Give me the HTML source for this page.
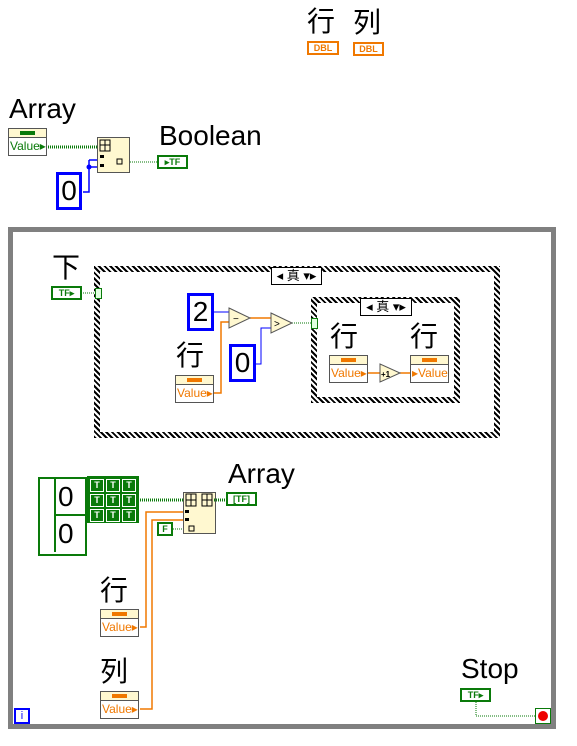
<!DOCTYPE html>
<html><head><meta charset="utf-8"><style>
body{margin:0;width:577px;height:746px;background:#fff;position:relative;overflow:hidden;font-family:"Liberation Sans","Noto Sans CJK SC",sans-serif}
.a{position:absolute}
.lbl{position:absolute;font-size:28px;line-height:30px;color:#000;white-space:nowrap}
.ctl{position:absolute;width:37px;height:26px;border:1px solid #555;background:#fff}
.ctl .h{height:8px;border-bottom:1px solid #555;background:#fff8d0;position:relative}
.ctl .h i{position:absolute;left:11px;top:2px;width:15px;height:4px;background:#f07800}
.ctl .v{font-size:12px;color:#f07800;line-height:16px;padding-left:1px}
.num{position:absolute;border:3px solid #0000ff;background:#fff;font-size:28px;line-height:32px;text-align:center;color:#000}
.tf{position:absolute;width:27px;height:10px;border:2px solid #0a7a0a;background:#fff;font:bold 9px/10px "Liberation Sans",sans-serif;color:#0a7a0a;text-align:center}
.chk{position:absolute;border:6px solid #000;border-image:repeating-linear-gradient(45deg,#000 0 2px,#fff 2px 4px) 6}
.sel{position:absolute;height:16px;border:1px solid #000;background:#fff;font-size:13px;line-height:16px;text-align:center}
.t{position:absolute;width:12px;height:11px;border:1px solid #fff;color:#fff;font:bold 9px/11px "Liberation Sans",sans-serif;text-align:center}
</style></head><body>
<svg class="a" style="left:0;top:0" width="577" height="746">
<line x1="48" y1="147" x2="97" y2="147" stroke="#0a7a0a" stroke-width="3" stroke-dasharray="1 1"/>
<polyline points="83,192 89,192 89,167 97,167" fill="none" stroke="#0000ff" stroke-width="1.5"/>
<line x1="89" y1="167" x2="89" y2="160" stroke="#0000ff" stroke-width="1.5"/>
<line x1="89" y1="160" x2="97" y2="160" stroke="#0000ff" stroke-width="1.5"/>
<circle cx="89" cy="167" r="2.5" fill="#0000ff"/>
<line x1="130" y1="162" x2="157" y2="162" stroke="#0a7a0a" stroke-dasharray="1 1"/>
<rect x="10.5" y="229.5" width="543" height="497" fill="none" stroke="#808080" stroke-width="5"/>
<line x1="83" y1="293" x2="95" y2="293" stroke="#0a7a0a" stroke-dasharray="1 1"/>
<polyline points="214,312 229,312" fill="none" stroke="#0000ff"/>
<polyline points="214,393 221,393 221,322 229,322" fill="none" stroke="#f07800" stroke-width="1.5"/>
<line x1="250" y1="318" x2="271" y2="318" stroke="#f07800" stroke-width="1.5"/>
<polyline points="256,364 261,364 261,328 271,328" fill="none" stroke="#0000ff"/>
<line x1="292" y1="323" x2="311" y2="323" stroke="#0a7a0a" stroke-dasharray="1 1"/>
<line x1="368" y1="373" x2="380" y2="373" stroke="#f07800" stroke-width="1.5"/>
<line x1="400" y1="373" x2="410" y2="373" stroke="#f07800" stroke-width="1.5"/>
<line x1="140" y1="500" x2="183" y2="500" stroke="#0a7a0a" stroke-width="3" stroke-dasharray="1 1"/>
<line x1="214" y1="500" x2="226" y2="500" stroke="#0a7a0a" stroke-width="3" stroke-dasharray="1 1"/>
<polyline points="140,627 146,627 146,512 183,512" fill="none" stroke="#f07800" stroke-width="1.5"/>
<polyline points="140,709 152,709 152,520 183,520" fill="none" stroke="#f07800" stroke-width="1.5"/>
<line x1="173" y1="529" x2="183" y2="529" stroke="#0a7a0a" stroke-dasharray="1 1"/>
<polyline points="476,702 476,716 535,716" fill="none" stroke="#0a7a0a" stroke-dasharray="1 1"/>
<polygon points="229,308 250,318 229,328" fill="#fff8d0" stroke="#555"/>
<text x="233" y="322" font-size="10">−</text>
<polygon points="271,313 292,323 271,333" fill="#fff8d0" stroke="#555"/>
<text x="274" y="327" font-size="10">&gt;</text>
<polygon points="380,364 400,373 380,382" fill="#fff8d0" stroke="#555"/>
<text x="381" y="377" font-size="8" font-weight="bold">+1</text>
<!-- node icons -->
<rect x="100" y="140" width="10" height="11" fill="none" stroke="#000"/>
<line x1="105" y1="140" x2="105" y2="151" stroke="#000"/><line x1="100" y1="145" x2="110" y2="145" stroke="#000"/>
<rect x="100" y="155" width="4" height="3" fill="#000"/><rect x="100" y="164" width="4" height="3" fill="#000"/>
<rect x="117" y="159" width="5" height="5" fill="none" stroke="#000"/>
<rect x="186" y="494" width="10" height="12" fill="none" stroke="#000"/>
<line x1="191" y1="494" x2="191" y2="506" stroke="#000"/><line x1="186" y1="500" x2="196" y2="500" stroke="#000"/>
<rect x="202" y="494" width="10" height="12" fill="none" stroke="#000"/>
<line x1="207" y1="494" x2="207" y2="506" stroke="#000"/><line x1="202" y1="500" x2="212" y2="500" stroke="#000"/>
<rect x="185" y="510" width="4" height="3" fill="#000"/><rect x="185" y="518" width="4" height="3" fill="#000"/>
<rect x="189" y="526" width="5" height="5" fill="none" stroke="#000"/>
</svg>

<div class="lbl" style="left:307px;top:7px">行</div>
<div class="lbl" style="left:353px;top:8px">列</div>
<div class="tf" style="left:307px;top:41px;border-color:#f07800;color:#f07800;width:28px">DBL</div>
<div class="tf" style="left:353px;top:42px;border-color:#f07800;color:#f07800;width:27px">DBL</div>

<div class="lbl" style="left:9px;top:94px">Array</div>
<div class="ctl" style="left:8px;top:128px"><div class="h"><i style="background:#0a7a0a"></i></div><div class="v" style="color:#0a7a0a">Value▸</div></div>
<div class="a" style="left:97px;top:137px;width:31px;height:34px;border:1px solid #555;background:#fff8d0;z-index:-1"></div>
<div class="num" style="left:56px;top:172px;width:20px;height:32px">0</div>
<div class="lbl" style="left:159px;top:121px">Boolean</div>
<div class="tf" style="left:157px;top:155px">▸TF</div>

<div class="lbl" style="left:52px;top:253px">下</div>
<div class="tf" style="left:51px;top:286px">TF▸</div>
<div class="chk" style="left:94px;top:266px;width:394px;height:160px"></div>
<div class="sel" style="left:271px;top:267px;width:49px">◂ 真 ▾▸</div>
<div class="a" style="left:95px;top:288px;width:5px;height:9px;border:1px solid #0a7a0a;background:#e0ffe0"></div>
<div class="num" style="left:187px;top:293px;width:21px;height:32px">2</div>
<div class="lbl" style="left:176px;top:341px">行</div>
<div class="ctl" style="left:175px;top:375px"><div class="h"><i></i></div><div class="v">Value▸</div></div>
<div class="num" style="left:229px;top:344px;width:21px;height:32px">0</div>
<div class="chk" style="left:311px;top:297px;width:137px;height:94px"></div>
<div class="sel" style="left:360px;top:298px;width:50px">◂ 真 ▾▸</div>
<div class="a" style="left:311px;top:318px;width:5px;height:9px;border:1px solid #0a7a0a;background:#e0ffe0"></div>
<div class="lbl" style="left:330px;top:322px">行</div>
<div class="ctl" style="left:329px;top:355px"><div class="h"><i></i></div><div class="v">Value▸</div></div>
<div class="lbl" style="left:410px;top:322px">行</div>
<div class="ctl" style="left:410px;top:355px"><div class="h"><i></i></div><div class="v">▸Value</div></div>

<div class="a" style="left:38px;top:477px;width:45px;height:75px;border:2px solid #0a7a0a;background:#fff"></div>
<div class="a" style="left:54px;top:479px;width:29px;height:35px;border-left:2px solid #0a7a0a;border-bottom:2px solid #0a7a0a;font-size:28px;line-height:35px;padding-left:2px">0</div>
<div class="a" style="left:54px;top:516px;width:29px;height:36px;border-left:2px solid #0a7a0a;font-size:28px;line-height:36px;padding-left:2px">0</div>
<div class="a" style="left:87px;top:476px;width:52px;height:47px;background:#0a7a0a">
<div class="t" style="left:3px;top:3px">T</div><div class="t" style="left:19px;top:3px">T</div><div class="t" style="left:35px;top:3px">T</div>
<div class="t" style="left:3px;top:18px">T</div><div class="t" style="left:19px;top:18px">T</div><div class="t" style="left:35px;top:18px">T</div>
<div class="t" style="left:3px;top:33px">T</div><div class="t" style="left:19px;top:33px">T</div><div class="t" style="left:35px;top:33px">T</div>
</div>
<div class="a" style="left:183px;top:492px;width:31px;height:40px;border:1px solid #555;background:#fff8d0;z-index:-1"></div>
<div class="lbl" style="left:228px;top:459px">Array</div>
<div class="tf" style="left:226px;top:492px">[TF]</div>
<div class="tf" style="left:157px;top:522px;width:12px">F</div>
<div class="lbl" style="left:100px;top:576px">行</div>
<div class="ctl" style="left:100px;top:609px"><div class="h"><i></i></div><div class="v">Value▸</div></div>
<div class="lbl" style="left:100px;top:657px">列</div>
<div class="ctl" style="left:100px;top:691px"><div class="h"><i></i></div><div class="v">Value▸</div></div>
<div class="lbl" style="left:461px;top:654px">Stop</div>
<div class="tf" style="left:460px;top:688px">TF▸</div>
<div class="a" style="left:535px;top:708px;width:14px;height:14px;border:1px solid #0a7a0a;background:#fff"><div class="a" style="left:2px;top:2px;width:10px;height:10px;border-radius:50%;background:#e00"></div></div>
<div class="a" style="left:14px;top:708px;width:12px;height:12px;border:2px solid #0000ff;background:#fff;font-size:11px;line-height:12px;text-align:center;color:#0000ff">i</div>
</body></html>
